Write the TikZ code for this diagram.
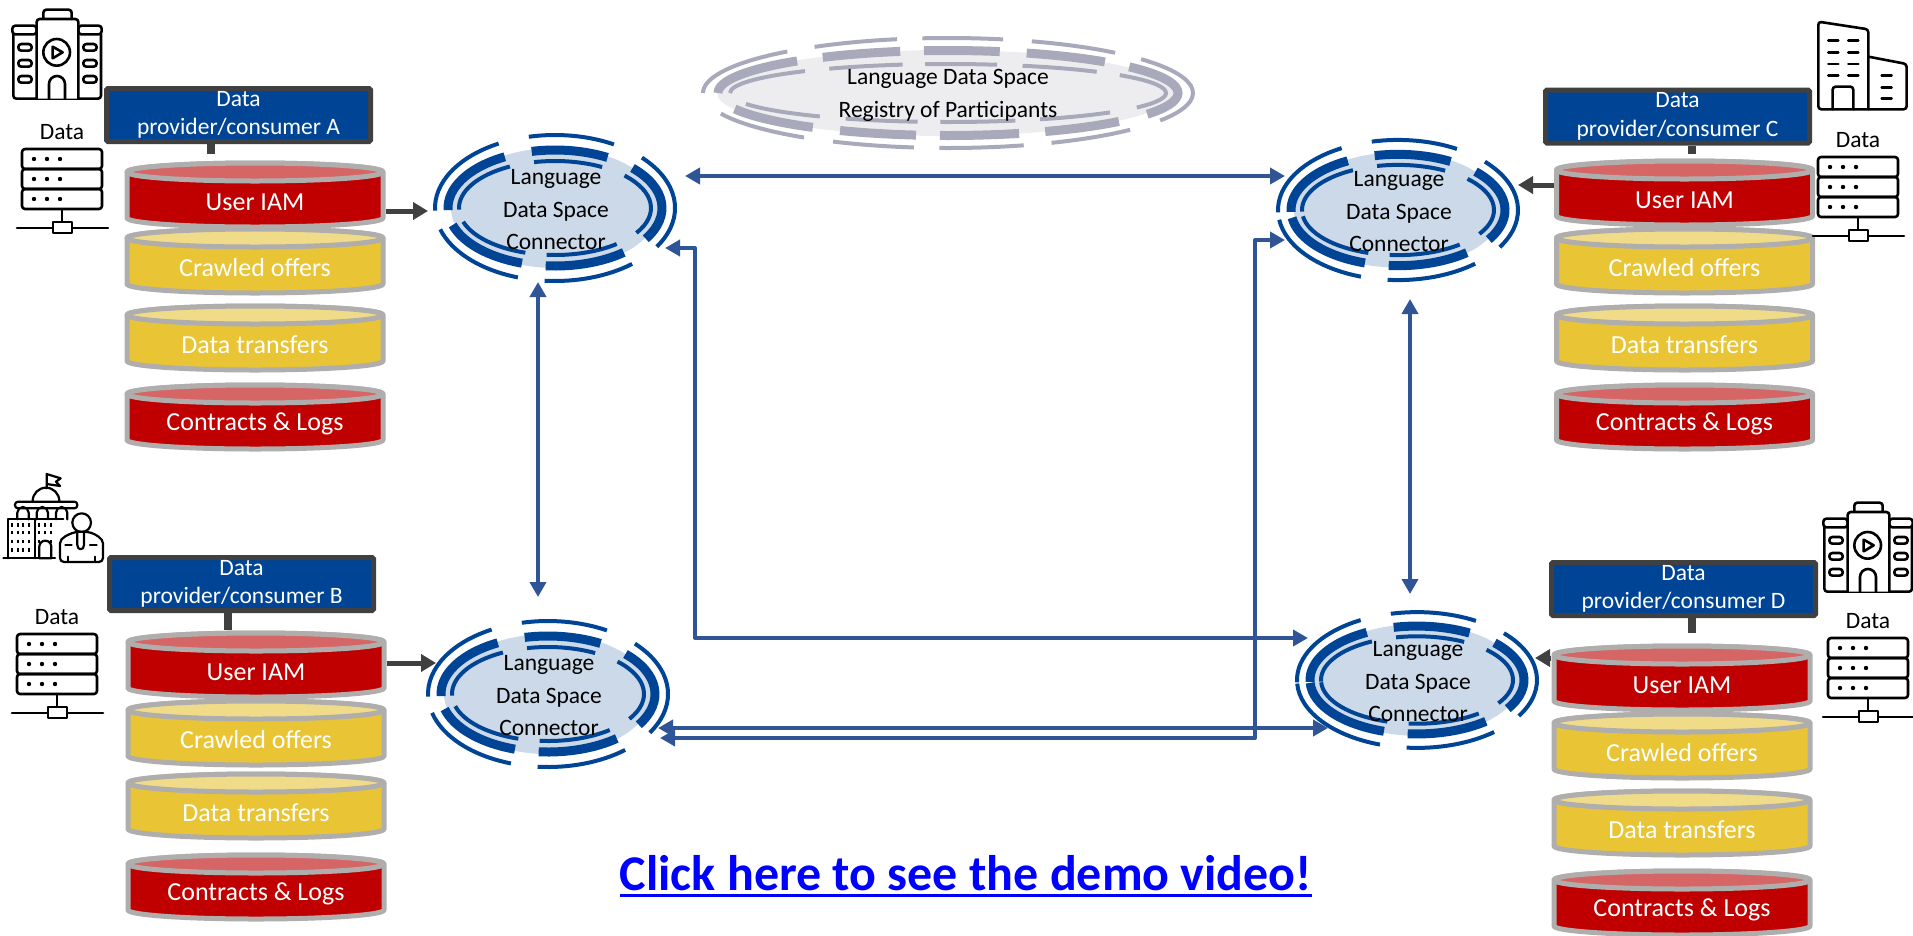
\documentclass[tikz,border=0pt]{standalone}
\usepackage{fontspec}
\setmainfont{Carlito}
\usetikzlibrary{arrows.meta,shapes.geometric}
\definecolor{ibmblue}{HTML}{004595}
\definecolor{slatebar}{HTML}{404040}
\definecolor{drumgrey}{HTML}{B0ADAD}
\definecolor{iamred}{HTML}{C00000}
\definecolor{iamlid}{HTML}{D66565}
\definecolor{offeryellow}{HTML}{E9C535}
\definecolor{offerlid}{HTML}{F0DC88}
\definecolor{hubfill}{HTML}{CBD9E9}
\definecolor{hubring}{HTML}{004595}
\definecolor{regfill}{HTML}{EDEDF0}
\definecolor{regring}{HTML}{A9A9BC}
\definecolor{flowblue}{HTML}{2F5597}
\tikzset{
	drumside/.style={draw=drumgrey,line width=5pt,line join=round},
	drumtext/.style={text=white,font=\fontsize{26}{28}\selectfont,minimum width=261pt,minimum height=60pt,inner sep=0pt},
	ownerbox/.style={draw=slatebar,fill=ibmblue,line width=5pt,rounded corners=1.5pt,minimum width=264pt,minimum height=53pt,inner sep=0pt,text=white,align=center,font=\fontsize{23.5}{28.5}\selectfont},
	stembar/.style={draw=slatebar,line width=8pt},
	feed/.style={draw=slatebar,line width=5pt,-{Triangle[length=15pt,width=17pt]}},
	flow/.style={draw=flowblue,line width=4pt,line join=round,{Triangle[length=15pt,width=16pt]}-{Triangle[length=15pt,width=16pt]}},
	hubtext/.style={align=center,inner sep=0pt,font=\fontsize{23.5}{32.5}\selectfont},
	smalltext/.style={inner sep=0pt,font=\fontsize{23.5}{28}\selectfont},
	icon/.style={draw=black,line width=2.6pt,line join=round,line cap=round},
	hallicon/.pic={
		\begin{scope}[scale=0.3333,icon]
			\draw[rounded corners=3pt] (40,103) -- (40,296) -- (303,296) -- (303,103);
			\draw[rounded corners=3pt] (37,77) rectangle (110,103);
			\draw[rounded corners=3pt] (235,77) rectangle (305,103);
			\draw[rounded corners=3pt,fill=white] (110,296) -- (110,57) -- (235,57) -- (235,296);
			\draw[rounded corners=3pt] (130,55) -- (130,29) -- (215,29) -- (215,55);
			\draw (170,157) circle (40pt);
			\draw (158,140) -- (158,175) -- (188,157) -- cycle;
			\draw (147,296) -- (147,252) arc[start angle=180,end angle=0,radius=24pt] -- (195,296);
			\foreach \wx in {55,250}
			\foreach \wy in {142,190,238}
			{
				\draw[rounded corners=3pt] (\wx,\wy-10) rectangle (\wx+40,\wy+10);
			}
		\end{scope}
	},
	towericon/.pic={
		\begin{scope}[scale=0.3333,icon]
			\draw[rounded corners=3pt] (1105,328) -- (955,328) -- (955,65) -- (1105,88) -- (1105,328);
			\draw[rounded corners=3pt] (1105,170) -- (1220,192) -- (1220,328) -- (1105,328);
			\draw[rounded corners=3pt] (998,328) -- (998,260) -- (1060,260) -- (1060,328);
			\foreach \wy in {122,157,192,227}
			{
				\draw (985,\wy) -- (1015,\wy);
				\draw (1045,\wy) -- (1075,\wy);
			}
			\foreach \wy in {227,262,296}
			{
				\draw (1145,\wy) -- (1175,\wy);
			}
		\end{scope}
	},
	govicon/.pic={
		\begin{scope}[scale=0.3333,icon,line width=2.2pt]
			\draw (10,295) -- (165,295);
			\draw (25,295) -- (25,178) -- (190,178);
			\draw (105,178) -- (105,295);
			\draw[rounded corners=3pt] (45,125) rectangle (232,145);
			\foreach \ax in {52,110,168}
			{
				\draw (\ax,178) -- (\ax,158) arc[start angle=180,end angle=0,radius=17pt] -- (\ax+34,178);
			}
			\draw (98,123) arc[start angle=180,end angle=0,radius=40pt];
			\draw (140,85) -- (140,42) -- (182,55) -- (168,65) -- (180,78) -- (140,72);
			\foreach \wx in {36,53,70,88,118,136,154}
			\foreach \wy in {195,218,245,270}
			{
				\fill (\wx-3,\wy-5) rectangle (\wx+3,\wy+5);
			}
			\draw[fill=white] (118,295) -- (118,260) arc[start angle=180,end angle=0,radius=18pt] -- (154,295) -- cycle;
			\draw[fill=white] (245,188) circle (28pt);
			\draw[fill=white,rounded corners=4pt] (180,306) -- (180,262) .. controls (180,232) and (210,222) .. (228,215) -- (262,215) .. controls (285,222) and (309,235) .. (309,262) -- (309,306) -- cycle;
			\draw (232,220) -- (232,255) .. controls (232,272) and (252,272) .. (252,255) -- (252,220);
			\draw (196,255) -- (215,255);
			\draw (270,255) -- (290,255);
			\draw (205,290) -- (205,304);
			\draw (285,290) -- (285,304);
		\end{scope}
	},
	racktower/.pic={
		\foreach \ry in {0,20,40}
		{
			\draw[icon,rounded corners=3pt] (-40,\ry) rectangle (40,\ry+20);
			\foreach \dx in {-28,-15,-2}
			{
				\fill (\dx,\ry+10) circle (2.2pt);
			}
		}
		\draw[icon] (0,60) -- (0,73);
		\draw[icon] (-45,79) -- (46,79);
		\draw[icon,fill=white] (-9,73) rectangle (10,84);
	}
}
\newlength{\linkwd}
\newcommand{\thickunder}[1]{\settowidth{\linkwd}{#1}\rlap{\rule[-7pt]{\linkwd}{3pt}}#1}
\newcommand{\drum}[6]{
	\draw[drumside,fill=#4] (#2-128,#3-30) -- (#2-128,#3+16) arc[start angle=180,end angle=360,x radius=128pt,y radius=9pt] -- (#2+128,#3-30) arc[start angle=0,end angle=180,x radius=128pt,y radius=9pt] -- cycle;
	\draw[drumside,fill=#5] (#2,#3-30) ellipse [x radius=128pt,y radius=9pt];
	\node[drumtext] (#1) at (#2,#3) {#6};
}
\newcommand{\rings}[3]{
	\foreach \rx/\ry/\wd in {#2}
	\foreach \sa/\sb in {#3}
	{
		\draw[#1,line width=\wd pt] (\sa:\rx pt and \ry pt) arc[start angle=\sa,end angle=\sb,x radius=\rx pt,y radius=\ry pt];
	}
}
\begin{document}
\begin{tikzpicture}[x=1pt,y=-1pt]
	\useasboundingbox (0,0) rectangle (1913,935);
	% registry
	\node[ellipse,fill=regfill,minimum width=456pt,minimum height=86pt,inner sep=0pt] (registry) at (945,93) {};
	\begin{scope}[shift={(948,93)}]
		\rings{regring}{245/55/4,230/42.5/9,218/29/4}{131/180,102/123,77/96,47/70,-30/38,-65/-42,-92/-72,-118/-98,-158/-126}
	\end{scope}
	\node[hubtext,font=\fontsize{23.5}{33}\selectfont] (registrytext) at (948,95) {Language Data Space\\Registry of Participants};
	% connectors
	\foreach \id/\x/\y/\ys/\low in {A/555/208/1/-163,B/548/694/1/-165,C/1398/210/0.96/-172,D/1417/680/0.93/-177}
	{
		\node[ellipse,fill=hubfill,minimum width=208pt,minimum height=\ys*120pt,inner sep=0pt] (hub\id) at (\x,\y) {};
		\begin{scope}[shift={(\x,\y)},yscale=\ys]
			\rings{hubring}{120/73/4,107/58/9,96/47/4}{118/182,60.6/102.6,-32/43.6,-95/-50,\low/-108}
		\end{scope}
		\node[hubtext] (hubtext\id) at (\x+1,\y+2) {Language\\Data Space\\Connector};
	}
	% data stacks
	\foreach \id/\cx/\ya/\yb/\yc/\yd in {A/255/202/268/345/424,B/256/672/740/813/894,C/1684.5/200/268/345/424,D/1682/685/753/830/910}
	{
		\drum{iam\id}{\cx}{\ya}{iamred}{iamlid}{User IAM}
		\drum{offers\id}{\cx}{\yb}{offeryellow}{offerlid}{Crawled offers}
		\drum{transfers\id}{\cx}{\yc}{offeryellow}{offerlid}{Data transfers}
		\drum{contracts\id}{\cx}{\yd}{iamred}{iamlid}{Contracts \& Logs}
	}
	% owners
	\foreach \id/\bx/\by/\sx/\sy/\dx/\dy/\ry in {A/238.5/115/211/154/62/132/149,B/241.5/584/228/630/57/617/634,C/1677.5/116.5/1692/154/1858/140/157,D/1683.5/589/1692/633/1868/621/638}
	{
		\node[ownerbox] (owner\id) at (\bx,\by) {Data\\provider/consumer \id};
		\coordinate (stem\id) at (\sx,\sy);
		\draw[stembar] (owner\id.south -| stem\id) -- (stem\id);
		\node[smalltext] (data\id) at (\dx,\dy) {Data};
		\pic at (\dx,\ry) {racktower};
	}
	\pic at (0,0) {hallicon};
	\pic at (1811,493) {hallicon};
	\pic at (1500,0) {towericon};
	\pic at (0,460) {govicon};
	% feeds
	\draw[feed] ([yshift=-9pt]iamA.east) -- ([shift={(-127pt,-3pt)}]hubA.center);
	\draw[feed] ([yshift=9pt]iamB.east) -- ([shift={(-112pt,31pt)}]hubB.center);
	\draw[feed] ([yshift=15pt]iamC.west) -- ([shift={(120pt,25pt)}]hubC.center);
	\draw[feed] ([yshift=27pt]iamD.west) -- ([shift={(118pt,22pt)}]hubD.center);
	% flows
	\draw[flow] ([shift={(130pt,32pt)}]hubA.center) -- ([shift={(-113pt,34pt)}]hubC.center);
	\draw[flow] ([shift={(-17pt,-74pt)}]hubA.center) -- ([shift={(-10pt,97pt)}]hubB.center);
	\draw[flow] ([shift={(12pt,-89pt)}]hubC.center) -- ([shift={(-7pt,86pt)}]hubD.center);
	\draw[flow] ([shift={(110pt,-40pt)}]hubA.center) -- ++(30,0) |- ([shift={(-109pt,42pt)}]hubD.center);
	\draw[flow] ([shift={(110pt,-34pt)}]hubB.center) -- ([shift={(-89pt,-48pt)}]hubD.center);
	\draw[flow] ([shift={(112pt,-44pt)}]hubB.center) -- ++(595,0) |- ([shift={(-113pt,-30pt)}]hubC.center);
	% link
	\node[inner sep=0pt,text=blue,font=\fontsize{50}{54}\selectfont\bfseries] (demolink) at (966,876) {\thickunder{Click here to see the demo video!}};
\end{tikzpicture}
\end{document}
